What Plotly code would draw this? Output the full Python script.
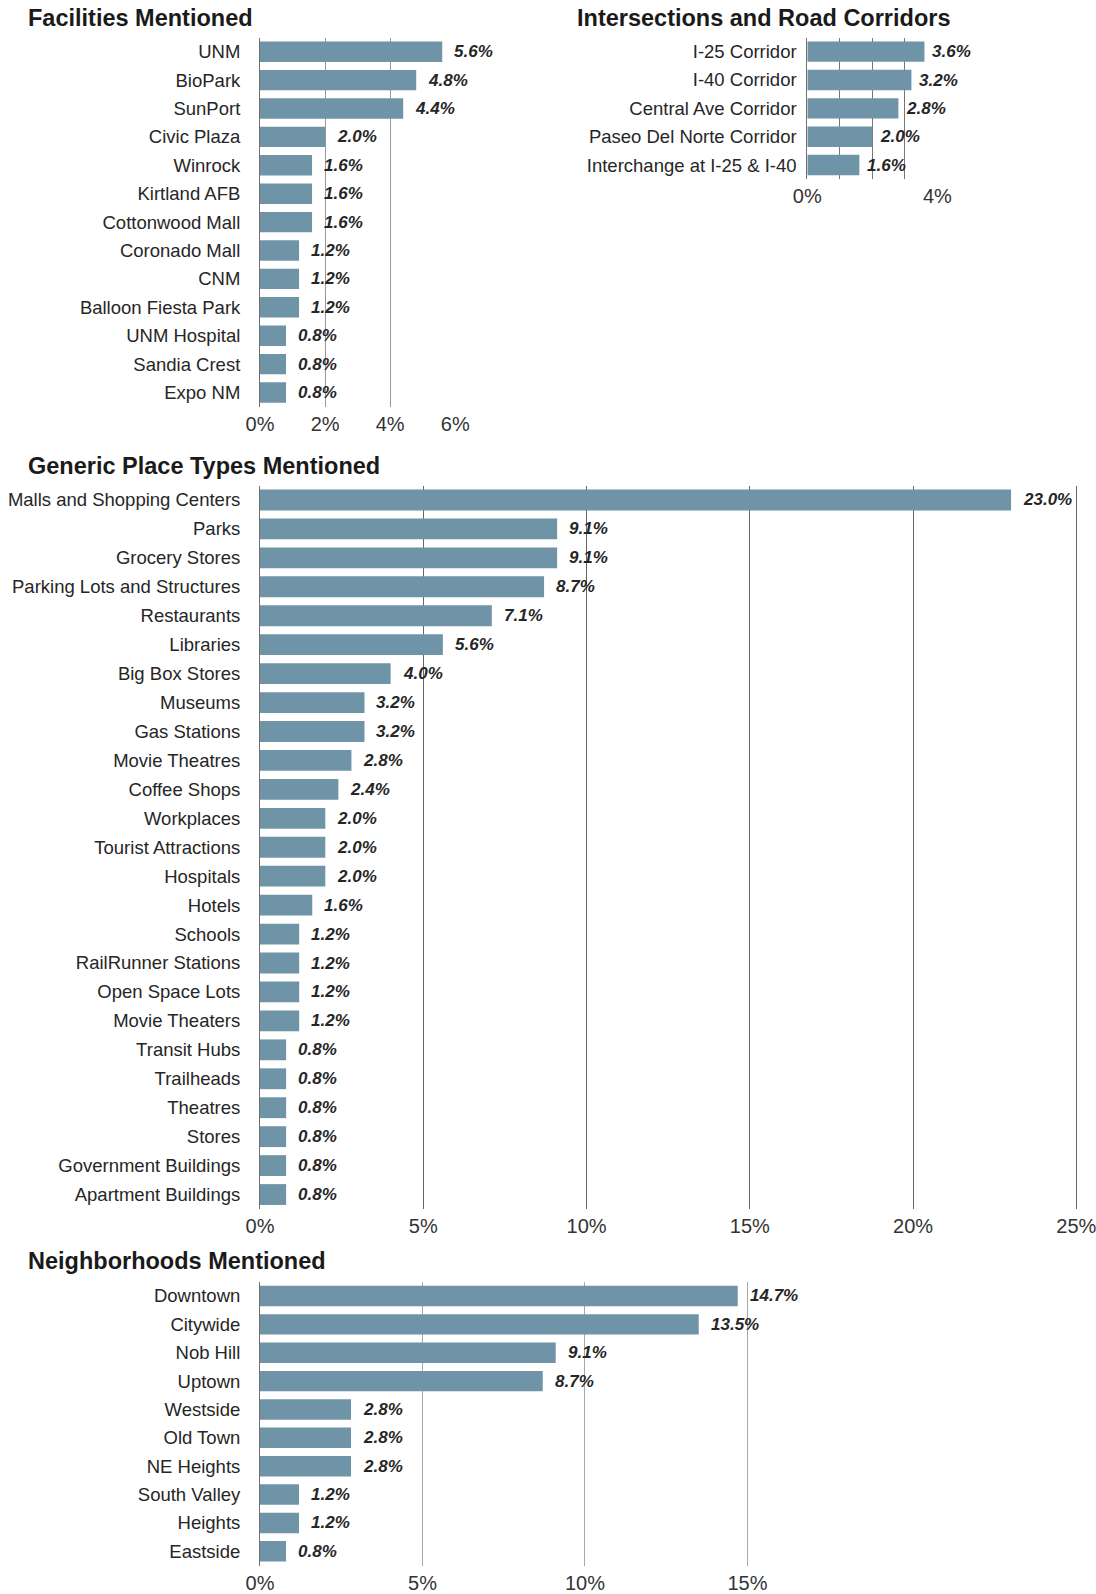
import plotly.graph_objects as go

W, H = 1096, 1594

fac_labels = ["UNM", "BioPark", "SunPort", "Civic Plaza", "Winrock", "Kirtland AFB",
              "Cottonwood Mall", "Coronado Mall", "CNM", "Balloon Fiesta Park",
              "UNM Hospital", "Sandia Crest", "Expo NM"]
fac_values = [5.6, 4.8, 4.4, 2.0, 1.6, 1.6, 1.6, 1.2, 1.2, 1.2, 0.8, 0.8, 0.8]

road_labels = ["I-25 Corridor", "I-40 Corridor", "Central Ave Corridor",
               "Paseo Del Norte Corridor", "Interchange at I-25 & I-40"]
road_values = [3.6, 3.2, 2.8, 2.0, 1.6]

gen_labels = ["Malls and Shopping Centers", "Parks", "Grocery Stores",
              "Parking Lots and Structures", "Restaurants", "Libraries",
              "Big Box Stores", "Museums", "Gas Stations", "Movie Theatres",
              "Coffee Shops", "Workplaces", "Tourist Attractions", "Hospitals",
              "Hotels", "Schools", "RailRunner Stations", "Open Space Lots",
              "Movie Theaters", "Transit Hubs", "Trailheads", "Theatres", "Stores",
              "Government Buildings", "Apartment Buildings"]
gen_values = [23.0, 9.1, 9.1, 8.7, 7.1, 5.6, 4.0, 3.2, 3.2, 2.8, 2.4, 2.0, 2.0, 2.0,
              1.6, 1.2, 1.2, 1.2, 1.2, 0.8, 0.8, 0.8, 0.8, 0.8, 0.8]

nb_labels = ["Downtown", "Citywide", "Nob Hill", "Uptown", "Westside", "Old Town",
             "NE Heights", "South Valley", "Heights", "Eastside"]
nb_values = [14.7, 13.5, 9.1, 8.7, 2.8, 2.8, 2.8, 1.2, 1.2, 0.8]

titles = ["Facilities Mentioned", "Intersections and Road Corridors",
          "Generic Place Types Mentioned", "Neighborhoods Mentioned"]

FONT = "Liberation Sans, Arial, Helvetica, sans-serif"
BAR = "#6f94a7"
TXT = "#262626"


def px(x):
    return x / W


def py(y):
    return 1 - y / H


panels = [
    dict(labels=fac_labels, values=fac_values, rng=[0, 6.02], xd=(260, 455.9),
         yd=(37.5, 406.7), tickvals=[0, 2, 4, 6], ticktext=None,
         grid="#9a9a9a", ystand=15, shift=10, title=titles[0], tx=26, ty=18),
    dict(labels=road_labels, values=road_values, rng=[0, 4.02], xd=(807.3, 938.1),
         yd=(37.5, 179.2), tickvals=[0, 1, 2, 3, 4],
         ticktext=["0%", "", "", "", "4%"],
         grid="#777777", ystand=6, shift=6, title=titles[1], tx=575, ty=18),
    dict(labels=gen_labels, values=gen_values, rng=[0, 25.1], xd=(260, 1079.6),
         yd=(485.5, 1209), tickvals=[0, 5, 10, 15, 20, 25], ticktext=None,
         grid="#666666", ystand=15, shift=10, title=titles[2], tx=26, ty=466),
    dict(labels=nb_labels, values=nb_values, rng=[0, 15.05], xd=(260, 749.1),
         yd=(1281.8, 1565.5), tickvals=[0, 5, 10, 15], ticktext=None,
         grid="#a8a8a8", ystand=15, shift=10, title=titles[3], tx=26, ty=1261),
]

fig = go.Figure()
annotations = []
layout = {}

for i, p in enumerate(panels, start=1):
    xa = "x" if i == 1 else f"x{i}"
    ya = "y" if i == 1 else f"y{i}"
    fig.add_trace(go.Bar(
        x=p["values"], y=p["labels"], orientation="h",
        marker=dict(color=BAR, line=dict(width=0)),
        xaxis=xa, yaxis=ya, showlegend=False, hoverinfo="x+y",
    ))
    n = len(p["labels"])
    xkey = "xaxis" if i == 1 else f"xaxis{i}"
    ykey = "yaxis" if i == 1 else f"yaxis{i}"
    ticktext = p["ticktext"] or [f"{v}%" for v in p["tickvals"]]
    layout[xkey] = dict(
        domain=[px(p["xd"][0]), px(p["xd"][1])], anchor=ya,
        range=p["rng"], tickvals=p["tickvals"], ticktext=ticktext,
        showgrid=True, gridcolor=p["grid"], gridwidth=1,
        zeroline=False, showline=False, ticks="", automargin=False,
        tickfont=dict(family=FONT, size=20, color="#333333"),
        ticklabelstandoff=3, ticklabeloverflow="allow", fixedrange=True,
    )
    layout[ykey] = dict(
        domain=[py(p["yd"][1]), py(p["yd"][0])], anchor=xa,
        type="category", categoryorder="array", categoryarray=p["labels"],
        range=[n - 0.5, -0.5], automargin=False,
        showline=True, linecolor="#707070", linewidth=1,
        showgrid=False, zeroline=False, ticks="",
        tickfont=dict(family=FONT, size=18.5, color=TXT),
        ticklabelstandoff=p["ystand"], fixedrange=True,
    )
    for lab, v in zip(p["labels"], p["values"]):
        annotations.append(dict(
            x=v, y=lab, xref=xa, yref=ya, text=f"<b><i>{v:.1f}%</i></b>",
            showarrow=False, xanchor="left", yanchor="middle", xshift=p["shift"],
            font=dict(family=FONT, size=17, color=TXT),
        ))
    annotations.append(dict(
        x=px(p["tx"]), y=py(p["ty"]), xref="paper", yref="paper",
        text=f"<b>{p['title']}</b>", showarrow=False,
        xanchor="left", yanchor="middle",
        font=dict(family=FONT, size=23.5, color="#1a1a1a"),
    ))

fig.update_layout(
    width=W, height=H, margin=dict(l=0, r=0, t=0, b=0, autoexpand=False),
    paper_bgcolor="white", plot_bgcolor="white",
    bargap=0.28, annotations=annotations, showlegend=False,
    **layout,
)

fig.write_html(
    "out.html",
    config={"displayModeBar": False},
    post_script="document.body.style.margin='0';document.body.style.overflow='hidden';",
)
